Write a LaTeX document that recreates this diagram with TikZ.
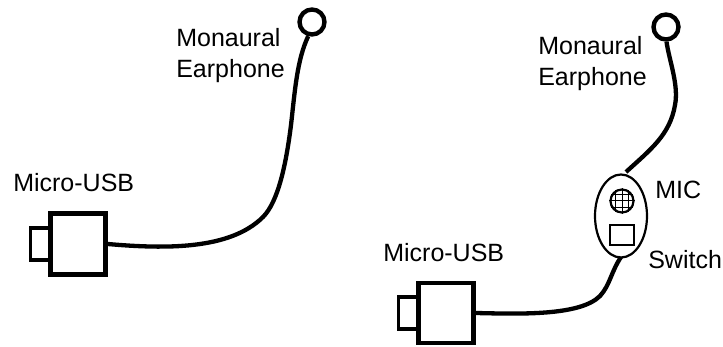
\documentclass[tikz,border=0pt]{standalone}
\usepackage{fontspec}
\setmainfont{Liberation Sans}
\usetikzlibrary{shapes.geometric, positioning}

\begin{document}
\begin{tikzpicture}[x=1pt,y=-1pt,semithick,inner sep=0pt]
	\tikzset{label text/.style={font=\fontsize{25}{33}\selectfont,align=left},
		plug body/.style={draw,line width=4.4pt,minimum width=55pt,minimum height=61pt},
		plug tip/.style={draw,line width=3.8pt,minimum width=20pt,minimum height=32pt},
		ear ring/.style={circle,draw,line width=4.4pt,minimum size=25pt},
		cable/.style={line width=4.3pt}}
	\useasboundingbox (0,0) rectangle (723,347);

	% left cable
	\node[ear ring] (earA) at (312,22) {};
	\node[plug body] (plugA) at (78,244) {};
	\node[plug tip] (tipA) [left=-4pt of plugA] {};
	\node[label text,anchor=north west] (monoA) at (176,28) {Monaural\\[-2pt]Earphone};
	\node[label text,anchor=base west] (usbA) at (13,192) {Micro-USB};

	\draw[cable] (plugA.east) .. controls (165,249) and (230,250) .. (263,217)
		.. controls (278,202) and (286,165) .. (291,125)
		.. controls (295,90) and (297,60) .. (earA.255);

	% right cable
	\node[ear ring] (earB) at (666,27) {};
	\node[plug body,minimum height=60pt] (plugB) at (446,313) {};
	\node[plug tip] (tipB) [left=-4pt of plugB] {};
	\node[ellipse,draw,line width=2.2pt,minimum width=52pt,minimum height=83pt] (box) at (621,216) {};
	\node[circle,draw,line width=2.2pt,minimum size=23pt] (mic) at (622,201) {};
	\node[draw,line width=2.2pt,minimum width=24pt,minimum height=20pt] (switch) at (622,235) {};
	\node[label text,anchor=north west] (monoB) at (538,36) {Monaural\\[-2pt]Earphone};
	\node[label text,anchor=base west] (usbB) at (383,262) {Micro-USB};
	\node[label text,anchor=base west] (micl) at (655,199) {MIC};
	\node[label text,anchor=base west] (swl) at (648,269) {Switch};

	\draw[line width=1pt] (mic.west) -- (mic.east) (mic.north) -- (mic.south)
		(mic.150) -- (mic.30) (mic.210) -- (mic.330)
		(mic.120) -- (mic.240) (mic.60) -- (mic.300);

	\draw[cable] (earB.272) .. controls (669,60) and (679,85) .. (675,105)
		.. controls (670,135) and (650,150) .. (626,172);
	\draw[cable] (plugB.east) .. controls (520,314) and (580,316) .. (600,296)
		.. controls (610,285) and (611,272) .. (621,257);
\end{tikzpicture}
\end{document}
